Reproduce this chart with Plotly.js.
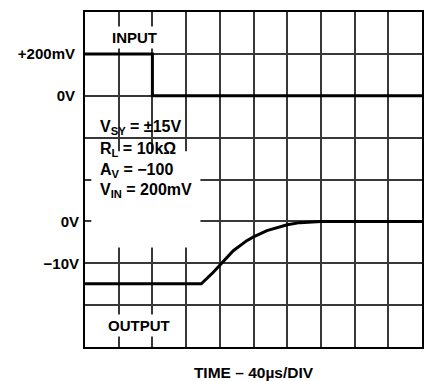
<!DOCTYPE html>
<html>
<head>
<meta charset="utf-8">
<script src="https://cdn.plot.ly/plotly-3.0.1.min.js"></script>
<style>html,body{margin:0;padding:0;background:#fff;}#chart{width:427px;height:381px;}</style>
</head>
<body>
<div id="chart"></div>
<script>
// Input step (time in µs, amplitude in mV)
const inputTime = [0, 80, 80, 400];
const inputMilliVolts = [200, 200, 0, 0];

// Output recovery (time in µs, amplitude in V)
const outputTime = [0, 138, 152, 160, 176, 192, 200, 216, 232, 240, 255, 271, 280, 400];
const outputVolts = [-14.9, -14.9, -12.2, -10.4, -7.0, -4.6, -3.7, -2.2, -1.2, -0.8, -0.3, -0.1, 0, 0];

// Tick labels
const inputTickVals = [0, 200];
const inputTickText = ['0V', '+200mV'];
const outputTickVals = [-10, 0];
const outputTickText = ['\u221210V', '0V'];

// Condition notes
const noteLines = [
  'V<sub>SY</sub> = \u00B115V',
  'R<sub>L</sub> = 10k\u03A9',
  'A<sub>V</sub> = \u2212100',
  'V<sub>IN</sub> = 200mV'
];
const inputLabel = 'INPUT';
const outputLabel = 'OUTPUT';
const xTitle = 'TIME \u2013 40\u00B5s/DIV';

const FONT = 'Liberation Sans, Arial, Helvetica, sans-serif';
const GRID = '#383838';
const GRIDW = 2;
const boldFont = (s) => ({family: FONT, size: s, color: '#000', weight: 700});

const traces = [
  {x: inputTime, y: inputMilliVolts, type: 'scatter', mode: 'lines', yaxis: 'y',
   line: {color: '#000', width: 3}, hoverinfo: 'skip', showlegend: false},
  {x: outputTime, y: outputVolts, type: 'scatter', mode: 'lines', yaxis: 'y2',
   line: {color: '#000', width: 3}, hoverinfo: 'skip', showlegend: false}
];

const noteY = [-150, -258, -357, -452];
const annotations = noteLines.map((t, i) => ({
  text: t, xref: 'x', yref: 'y', x: 15, y: noteY[i], xanchor: 'left', yanchor: 'middle',
  showarrow: false, font: boldFont(16)
}));
annotations.push({text: inputLabel, xref: 'x', yref: 'y', x: 58.7, y: 280, showarrow: false,
  bgcolor: '#fff', borderpad: 2, font: boldFont(15)});
annotations.push({text: outputLabel, xref: 'x', yref: 'y', x: 64.4, y: -1097, showarrow: false,
  bgcolor: '#fff', borderpad: 2, font: boldFont(15)});

const layout = {
  width: 427, height: 381,
  margin: {l: 85, r: 5, t: 12, b: 34},
  paper_bgcolor: '#fff', plot_bgcolor: '#fff',
  font: boldFont(15),
  xaxis: {
    range: [0, 400], tick0: 0, dtick: 40, showticklabels: false, ticks: '',
    showgrid: true, gridcolor: GRID, gridwidth: GRIDW, zeroline: false,
    showline: true, mirror: true, linecolor: '#000', linewidth: 2,
    title: {text: xTitle, standoff: 19, font: boldFont(15.5)},
    fixedrange: true
  },
  yaxis: {
    range: [-1200, 400], tickmode: 'array', tickvals: inputTickVals, ticktext: inputTickText, ticks: '',
    ticklabelstandoff: 5,
    showgrid: true, gridcolor: GRID, gridwidth: GRIDW, zeroline: false,
    minor: {tickmode: 'linear', tick0: -1200, dtick: 200, showgrid: true, gridcolor: GRID, gridwidth: GRIDW, ticks: ''},
    showline: true, mirror: true, linecolor: '#000', linewidth: 2,
    tickfont: boldFont(15), fixedrange: true
  },
  yaxis2: {
    range: [-30, 50], overlaying: 'y', side: 'left', anchor: 'x',
    tickmode: 'array', tickvals: outputTickVals, ticktext: outputTickText, ticks: '',
    ticklabelstandoff: 5,
    showgrid: false, zeroline: false, showline: false,
    tickfont: boldFont(15), fixedrange: true
  },
  shapes: [
    {type: 'rect', xref: 'x', yref: 'y', x0: 7.5, x1: 137, y0: -725, y1: -265,
     fillcolor: '#fff', line: {width: 0}, layer: 'above'}
  ],
  annotations: annotations
};

Plotly.newPlot('chart', traces, layout, {displayModeBar: false, staticPlot: true});
</script>
</body>
</html>
